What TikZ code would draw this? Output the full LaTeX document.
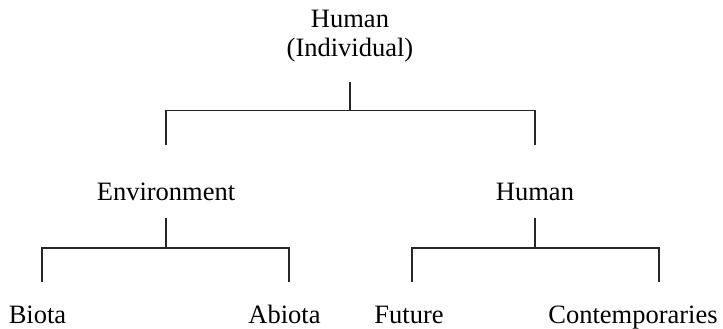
\documentclass[tikz,border=0pt]{standalone}
\usepackage{fontspec}
\setmainfont{Liberation Serif}
\usepackage{tikz}

\tikzset{
  term/.style={inner sep=0pt, font=\fontsize{26.5}{29}\selectfont},
  leaf/.style={term, anchor=base, text height=18.5pt, text depth=5.8pt},
  branch/.style={line width=1.1pt, black!85}
}

\begin{document}
\begin{tikzpicture}[x=1pt, y=-1pt]
	\useasboundingbox (0,0) rectangle (723,329);

	\node (top) [term, align=center, anchor=base] at (350,57) {Human\\(Individual)};
	\node (env) [leaf] at (166,200) {Environment};
	\node (hum) [leaf] at (535,200) {Human};
	\node (biota) [leaf] at (37.5,323) {Biota};
	\node (abiota) [leaf] at (284.5,323) {Abiota};
	\node (future) [leaf] at (409,323) {Future};
	\node (contemp) [leaf] at (633,323) {Contemporaries};

	\draw [branch] ([yshift=-19pt]top.south) -- ++(0,29) coordinate (topjoint);
	\draw [branch] ([yshift=36.5pt]env.north) |- (topjoint) -| ([yshift=36.5pt]hum.north);

	\draw [branch] ([yshift=-12pt]env.south) -- ++(0,30) coordinate (envjoint);
	\draw [branch] ([xshift=4.5pt, yshift=22.5pt]biota.north) |- (envjoint) -| ([xshift=4.5pt, yshift=22.5pt]abiota.north);

	\draw [branch] ([yshift=-12pt]hum.south) -- ++(0,30) coordinate (humjoint);
	\draw [branch] ([xshift=3pt, yshift=22.5pt]future.north) |- (humjoint) -| ([xshift=26pt, yshift=22.5pt]contemp.north);

\end{tikzpicture}
\end{document}
